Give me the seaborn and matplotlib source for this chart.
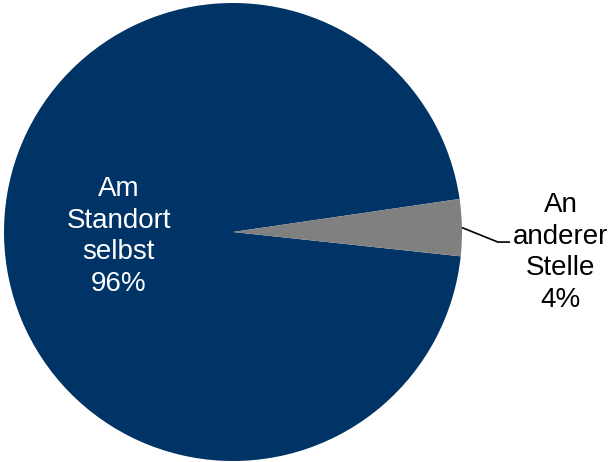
import numpy as np
import matplotlib
matplotlib.use("Agg")
import matplotlib.pyplot as plt
import seaborn as sns

categories = ["Am\nStandort\nselbst", "An\nanderer\nStelle"]
values = [96, 4]
colors = ["#003366", "#808080"]

sns.set_theme(style="white")
plt.rcParams["font.family"] = ["Liberation Sans", "DejaVu Sans"]

fig = plt.figure(figsize=(6.13, 4.62), dpi=100)
ax = fig.add_axes([4 / 613, 1 / 462, 458 / 613, 458 / 462])
wedges, _ = ax.pie(values, colors=colors, startangle=8.3, counterclock=True,
                   radius=1.0, wedgeprops=dict(linewidth=0))
ax.set_xlim(-1, 1)
ax.set_ylim(-1, 1)
ax.set_aspect("equal")
ax.axis("off")

total = sum(values)
fs = 20
ls = 1.28
# inside label for the big slice
w0 = wedges[0]
mid0 = np.deg2rad((w0.theta1 + w0.theta2) / 2)
ax.text(0.5 * np.cos(mid0), 0.5 * np.sin(mid0) - 0.01,
        f"{categories[0]}\n{values[0] / total * 100:.0f}%",
        ha="center", va="center", color="white", fontsize=fs, linespacing=ls)

# outside label with leader line for the small slice
w1 = wedges[1]
mid1 = np.deg2rad((w1.theta1 + w1.theta2) / 2)
x0, y0 = np.cos(mid1), np.sin(mid1)
ax.plot([x0, 1.157, 1.21], [y0, -0.044, -0.044], color="black", lw=1.2,
        clip_on=False, solid_capstyle="butt")
ax.text(1.43, -0.09, f"{categories[1]}\n{values[1] / total * 100:.0f}%",
        ha="center", va="center", color="black", fontsize=fs, linespacing=ls,
        clip_on=False)

fig.savefig("out.png", dpi=100)
